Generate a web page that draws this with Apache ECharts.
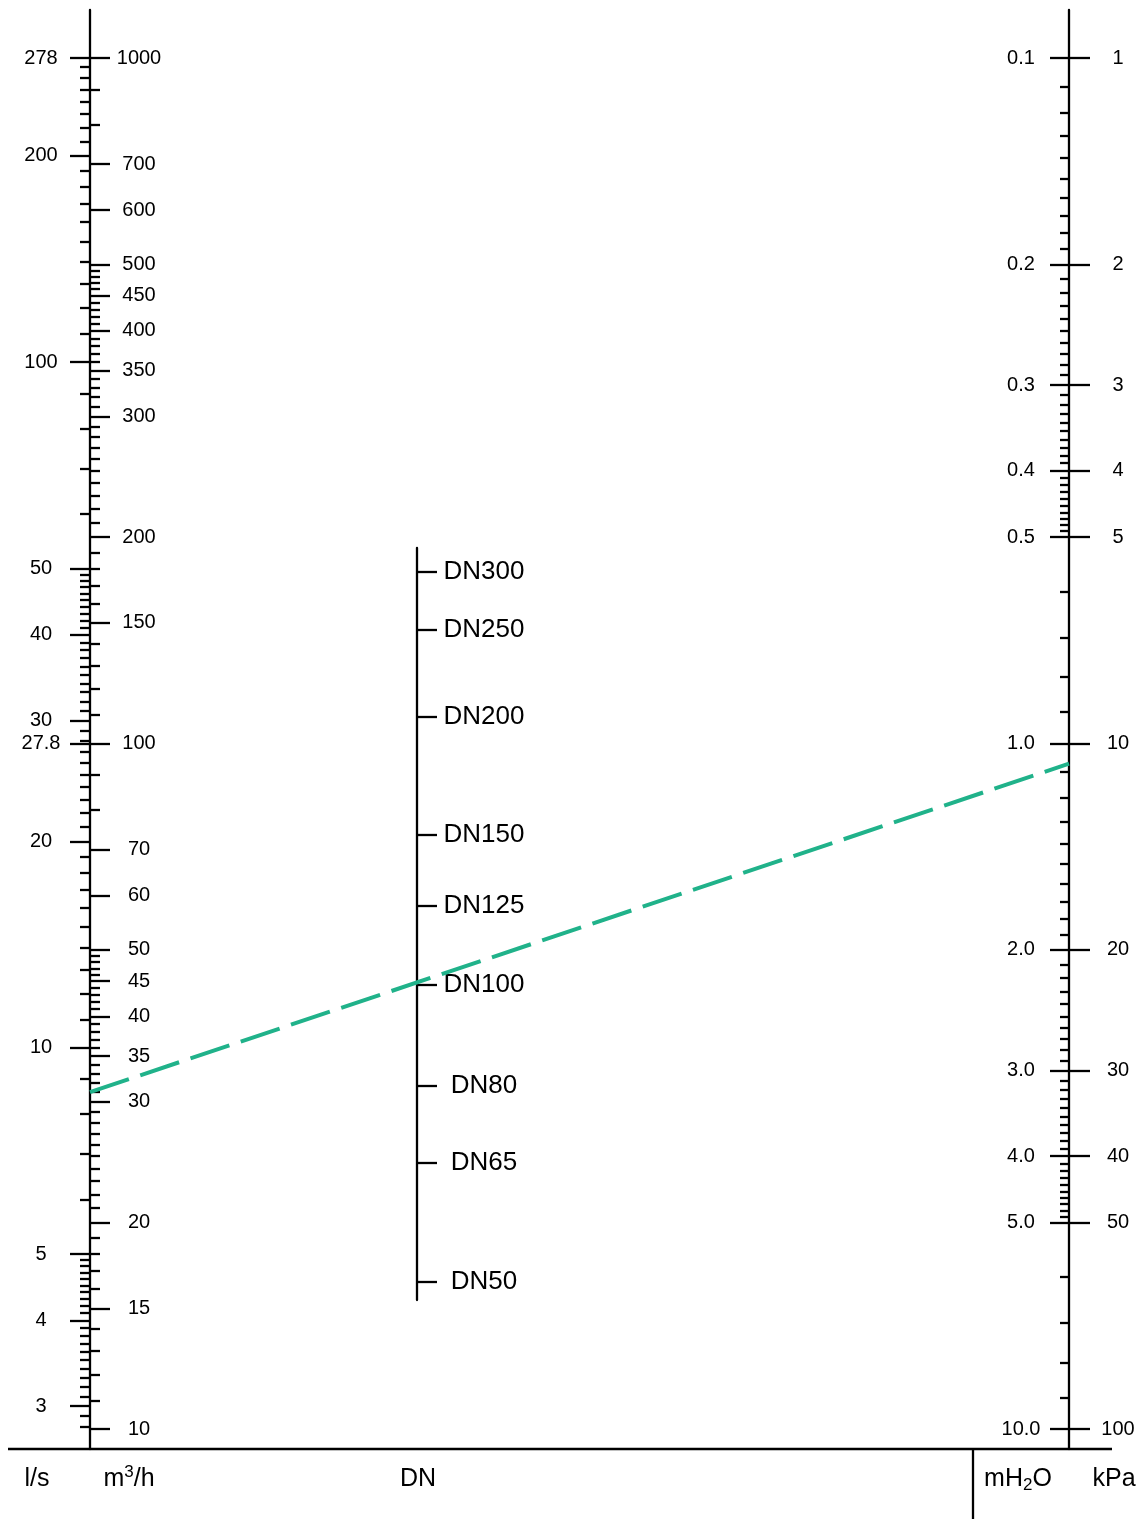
<!DOCTYPE html>
<html>
<head>
<meta charset="utf-8">
<style>
  html, body { margin: 0; padding: 0; background: #fff; }
  #chart { width: 1144px; height: 1519px; }
</style>
<script src="https://cdn.jsdelivr.net/npm/echarts@6/dist/echarts.min.js"></script>
</head>
<body>
<div id="chart"></div>
<script>
// ---- l/s scale (left side of the first line) ----
const lsMajor = [277.78, 200, 100, 50, 40, 30, 27.78, 20, 10, 5, 4, 3];
const lsLabels = ['278', '200', '100', '50', '40', '30', '27.8', '20', '10', '5', '4', '3'];
const lsMinor = [2.8, 2.9, 3.1, 3.2, 3.3, 3.4, 3.5, 3.6, 3.7, 3.8, 3.9,
  4.1, 4.2, 4.3, 4.4, 4.5, 4.6, 4.7, 4.8, 4.9, 6, 7, 8, 9,
  11, 12, 13, 14, 15, 16, 17, 18, 19, 21, 22, 23, 24, 25, 26, 27, 28, 29,
  31, 32, 33, 34, 35, 36, 37, 38, 39, 41, 42, 43, 44, 45, 46, 47, 48, 49,
  60, 70, 80, 90, 110, 120, 130, 140, 150, 160, 170, 180, 190,
  210, 220, 230, 240, 250, 260, 270];

// ---- m3/h scale (right side of the first line) ----
const flowMajor = [1000, 700, 600, 500, 450, 400, 350, 300, 200, 150, 100, 70, 60, 50, 45, 40, 35, 30, 20, 15, 10];
const flowMinor = [11, 12, 13, 14, 16, 17, 18, 19, 21, 22, 23, 24, 25, 26, 27, 28, 29,
  31, 32, 33, 34, 36, 37, 38, 39, 41, 42, 43, 44, 46, 47, 48, 49, 80, 90,
  110, 120, 130, 140, 160, 170, 180, 190, 210, 220, 230, 240, 250, 260, 270, 280, 290,
  310, 320, 330, 340, 360, 370, 380, 390, 410, 420, 430, 440, 460, 470, 480, 490, 800, 900];

// ---- mH2O / kPa scale (last line) ----
const headMajor = [0.1, 0.2, 0.3, 0.4, 0.5, 1, 2, 3, 4, 5, 10];
const headLabels = ['0.1', '0.2', '0.3', '0.4', '0.5', '1.0', '2.0', '3.0', '4.0', '5.0', '10.0'];
const headMinor = [0.11, 0.12, 0.13, 0.14, 0.15, 0.16, 0.17, 0.18, 0.19,
  0.21, 0.22, 0.23, 0.24, 0.25, 0.26, 0.27, 0.28, 0.29,
  0.31, 0.32, 0.33, 0.34, 0.35, 0.36, 0.37, 0.38, 0.39,
  0.41, 0.42, 0.43, 0.44, 0.45, 0.46, 0.47, 0.48, 0.49, 0.6, 0.7, 0.8, 0.9,
  1.1, 1.2, 1.3, 1.4, 1.5, 1.6, 1.7, 1.8, 1.9, 2.1, 2.2, 2.3, 2.4, 2.5, 2.6, 2.7, 2.8, 2.9,
  3.1, 3.2, 3.3, 3.4, 3.5, 3.6, 3.7, 3.8, 3.9, 4.1, 4.2, 4.3, 4.4, 4.5, 4.6, 4.7, 4.8, 4.9,
  6, 7, 8, 9];
const kpaMajor = [1, 2, 3, 4, 5, 10, 20, 30, 40, 50, 100];

// ---- DN scale (middle line), Kv read where each DN tick sits ----
const dnNames = ['DN300', 'DN250', 'DN200', 'DN150', 'DN125', 'DN100', 'DN80', 'DN65', 'DN50'];
const dnKv = [756, 565, 364, 201, 141, 94.4, 56.8, 38.5, 21.2];

// ---- example reading (dashed line) ----
const flowPoint = 31;    // m3/h
const headPoint = 1.07;  // mH2O

// axis ends (line runs a little past 1000 and below 10)
const flowMin = 9.35, flowMax = 1175;
const dnMin = 19.3, dnMax = 853.5;

const FONT = '"Liberation Sans", Arial, Helvetica, sans-serif';
const LW = 2.3;

function pick(values, labels) {
  return function (v) {
    let best = 0, d = Infinity;
    values.forEach(function (t, i) {
      const e = Math.abs(Math.log(v) - Math.log(t));
      if (e < d) { d = e; best = i; }
    });
    return labels ? labels[best] : String(values[best]);
  };
}

function scaleAxis(o) {
  return {
    type: 'log',
    gridIndex: o.grid || 0,
    position: o.pos,
    offset: 0,
    min: o.min,
    max: o.max,
    inverse: !!o.inverse,
    axisLine: { show: !!o.line, onZero: false, lineStyle: { color: '#000', width: LW } },
    axisTick: { show: true, inside: o.inside, length: o.len, customValues: o.ticks,
      lineStyle: { color: '#000', width: LW } },
    axisLabel: o.fmt ? {
      show: true, inside: o.inside, customValues: o.ticks, margin: o.margin,
      align: 'center', verticalAlign: 'middle', formatter: o.fmt,
      color: '#000', fontSize: o.size || 20, fontFamily: FONT
    } : { show: false },
    splitLine: { show: false },
    minorTick: { show: false },
    minorSplitLine: { show: false }
  };
}

const chart = echarts.init(document.getElementById('chart'), null, { renderer: 'canvas' });

const yAxes = [
  // 0: m3/h major (right of line)
  scaleAxis({ pos: 'left', min: flowMin, max: flowMax, inside: true, len: 20, ticks: flowMajor,
    margin: 49, fmt: pick(flowMajor) }),
  // 1: m3/h minor
  scaleAxis({ pos: 'left', min: flowMin, max: flowMax, inside: true, len: 10, ticks: flowMinor }),
  // 2: l/s major (left of line)
  scaleAxis({ pos: 'left', min: flowMin / 3.6, max: flowMax / 3.6, inside: false, len: 20, ticks: lsMajor,
    margin: 49, fmt: pick(lsMajor, lsLabels), line: true }),
  // 3: l/s minor
  scaleAxis({ pos: 'left', min: flowMin / 3.6, max: flowMax / 3.6, inside: false, len: 10, ticks: lsMinor }),
  // 4: mH2O major (left of last line)
  scaleAxis({ pos: 'right', min: 100 / flowMax, max: 100 / flowMin, inverse: true, inside: true, len: 19,
    ticks: headMajor, margin: 48, fmt: pick(headMajor, headLabels), line: true }),
  // 5: mH2O minor
  scaleAxis({ pos: 'right', min: 100 / flowMax, max: 100 / flowMin, inverse: true, inside: true, len: 9,
    ticks: headMinor }),
  // 6: kPa major (right of last line)
  scaleAxis({ pos: 'right', min: 1000 / flowMax, max: 1000 / flowMin, inverse: true, inside: false, len: 21,
    ticks: kpaMajor, margin: 49, fmt: pick(kpaMajor) }),
  // 7: DN
  scaleAxis({ grid: 1, pos: 'left', min: dnMin, max: dnMax, inside: true, len: 20, ticks: dnKv,
    margin: 67, fmt: pick(dnKv, dnNames), line: true, size: 26 })
];

const option = {
  backgroundColor: '#fff',
  animation: false,
  textStyle: { fontFamily: FONT },
  grid: [
    { left: 90, right: 75, top: 10, bottom: 70, outerBoundsMode: 'none', containLabel: false },
    { left: 417, width: 1, top: 548, bottom: 219, outerBoundsMode: 'none', containLabel: false }
  ],
  xAxis: [
    { type: 'value', gridIndex: 0, min: 0, max: 1, show: false },
    { type: 'value', gridIndex: 1, min: 0, max: 1, show: false }
  ],
  yAxis: yAxes,
  series: [{
    type: 'line',
    xAxisIndex: 0,
    yAxisIndex: 0,
    showSymbol: false,
    silent: true,
    lineStyle: { color: '#20b28a', width: 4, type: [41, 12], cap: 'butt' },
    data: [[0, flowPoint], [1, 100 / headPoint]]
  }],
  graphic: [
    { type: 'line', shape: { x1: 8, y1: 1449, x2: 1112, y2: 1449 }, style: { stroke: '#000', lineWidth: LW } },
    { type: 'line', shape: { x1: 973, y1: 1449, x2: 973, y2: 1519 }, style: { stroke: '#000', lineWidth: LW } },
    { type: 'text', style: { text: 'l/s', x: 37, y: 1479, align: 'center', verticalAlign: 'middle',
      fill: '#000', fontSize: 25, fontFamily: FONT } },
    { type: 'text', style: { text: '{a|m}{s|3}{a|/h}', x: 129, y: 1479, align: 'center', verticalAlign: 'middle',
      fill: '#000', fontSize: 25, fontFamily: FONT,
      rich: { a: { fontSize: 25, fontFamily: FONT, lineHeight: 30, fill: '#000' },
              s: { fontSize: 17, fontFamily: FONT, verticalAlign: 'top', lineHeight: 17, fill: '#000' } } } },
    { type: 'text', style: { text: 'DN', x: 418, y: 1479, align: 'center', verticalAlign: 'middle',
      fill: '#000', fontSize: 25, fontFamily: FONT } },
    { type: 'text', style: { text: '{a|mH}{s|2}{a|O}', x: 1018, y: 1479, align: 'center', verticalAlign: 'middle',
      fill: '#000', fontSize: 25, fontFamily: FONT,
      rich: { a: { fontSize: 25, fontFamily: FONT, lineHeight: 30, fill: '#000' },
              s: { fontSize: 17, fontFamily: FONT, verticalAlign: 'bottom', lineHeight: 17, fill: '#000' } } } },
    { type: 'text', style: { text: 'kPa', x: 1114, y: 1479, align: 'center', verticalAlign: 'middle',
      fill: '#000', fontSize: 25, fontFamily: FONT } }
  ]
};

chart.setOption(option);
</script>
</body>
</html>
